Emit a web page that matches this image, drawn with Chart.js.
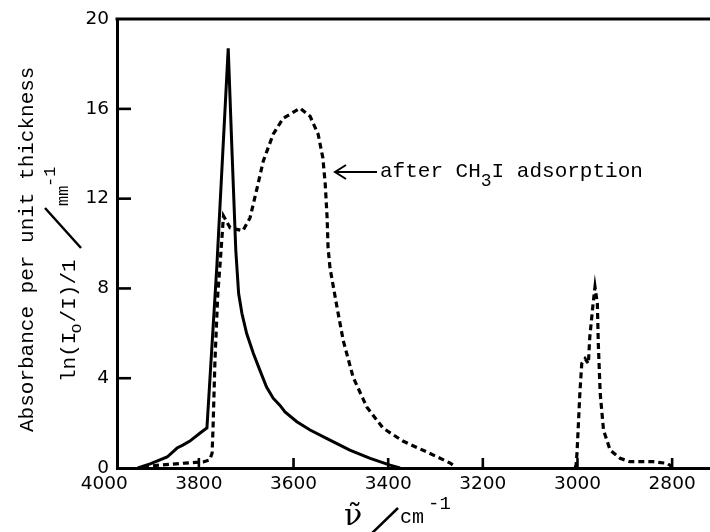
<!DOCTYPE html>
<html>
<head>
<meta charset="utf-8">
<script src="https://cdn.jsdelivr.net/npm/chart.js@4/dist/chart.umd.min.js"></script>
<style>
html,body{margin:0;padding:0;background:#fff;}
#wrap{width:710px;height:532px;position:relative;}
</style>
</head>
<body>
<div id="wrap"><canvas id="c" width="710" height="532"></canvas></div>
<script>
// ---- data ----
const xTickValues = [4000, 3800, 3600, 3400, 3200, 3000, 2800];
const yTickValues = [0, 4, 8, 12, 16, 20];
const xInnerTicks = [3800, 3600, 3400, 3200, 3000, 2800];
const yInnerTicks = [4, 8, 12, 16];
const xLeftEdge = 3973;
const xRightEdge = 2720;

// solid curve (before adsorption)
const beforeWavenumber = [3929, 3903, 3867, 3846, 3834, 3819, 3798, 3783, 3762, 3738, 3730, 3722, 3716, 3709, 3699, 3685, 3671, 3657, 3643, 3629, 3618, 3593, 3565, 3523, 3481, 3438, 3396, 3375];
const beforeAbsorbance = [0, 0.18, 0.49, 0.89, 1.02, 1.2, 1.55, 1.78, 9.0, 18.7, 14.1, 9.7, 7.77, 6.88, 5.99, 5.11, 4.35, 3.61, 3.11, 2.8, 2.5, 2.06, 1.69, 1.24, 0.8, 0.43, 0.13, 0];

// dashed curve (after CH3I adsorption); null = no trace (lies on the axis)
const afterWavenumber = [3918, 3882, 3829, 3791, 3777, 3772, 3770, 3766, 3760, 3755, 3748, 3734, 3707, 3692, 3677, 3664, 3643, 3622, 3586, 3565, 3548, 3538, 3533, 3529, 3527, 3523, 3508, 3495, 3474, 3445, 3411, 3369, 3318, 3269, 3257, 3130, 3005, 3003, 3001, 2995, 2991, 2984, 2977, 2974, 2967, 2963, 2958, 2956, 2952, 2945, 2931, 2910, 2889, 2840, 2811, 2800];
const afterAbsorbance = [0.06, 0.13, 0.22, 0.27, 0.36, 0.67, 1.82, 4.79, 7.77, 9.15, 11.23, 10.7, 10.57, 11.14, 12.47, 13.67, 14.87, 15.58, 16.03, 15.67, 14.87, 13.81, 12.65, 11.14, 9.81, 8.92, 7.15, 5.68, 4.04, 2.71, 1.78, 1.2, 0.71, 0.22, 0.04, null, 0, 0.13, 0.67, 3.32, 4.65, 4.87, 4.65, 5.84, 7.32, 8.07, 7.32, 5.54, 3.32, 1.69, 0.8, 0.43, 0.28, 0.28, 0.21, 0.06];

const toPoints = (xs, ys) => xs.map((x, i) => ({x: x, y: ys[i]}));

const decorations = {
  id: 'decorations',
  afterDatasetsDraw(chart) {
    const {ctx, chartArea: a, scales} = chart;
    const x = scales.x, y = scales.y;
    ctx.save();
    ctx.strokeStyle = '#000';
    ctx.fillStyle = '#000';
    ctx.lineCap = 'butt';
    // top frame line
    ctx.lineWidth = 3;
    ctx.beginPath(); ctx.moveTo(a.left - 1.5, a.top); ctx.lineTo(a.right, a.top); ctx.stroke();
    // inward tick marks
    ctx.lineWidth = 2.6;
    yInnerTicks.forEach(v => {
      const py = y.getPixelForValue(v);
      ctx.beginPath(); ctx.moveTo(a.left, py); ctx.lineTo(a.left + 14, py); ctx.stroke();
    });
    xInnerTicks.forEach(v => {
      const px = x.getPixelForValue(v);
      ctx.beginPath(); ctx.moveTo(px, a.bottom); ctx.lineTo(px, a.bottom - 10); ctx.stroke();
    });

    // annotation arrow + text
    ctx.lineWidth = 2;
    ctx.beginPath(); ctx.moveTo(336, 172); ctx.lineTo(377, 172); ctx.stroke();
    ctx.beginPath(); ctx.moveTo(346, 165); ctx.lineTo(335, 172); ctx.lineTo(346, 179); ctx.stroke();
    ctx.textBaseline = 'alphabetic';
    ctx.textAlign = 'left';
    let tx = 380;
    ctx.font = '21px "Liberation Mono"';
    ctx.fillText('after CH', tx, 177); tx += ctx.measureText('after CH').width;
    ctx.font = '18px "Liberation Mono"';
    ctx.fillText('3', tx, 186); tx += ctx.measureText('3').width;
    ctx.font = '21px "Liberation Mono"';
    ctx.fillText('I adsorption', tx, 177);

    // y axis title, line 1
    ctx.save();
    ctx.translate(33, 432); ctx.rotate(-Math.PI / 2);
    ctx.font = '21px "Liberation Mono"';
    ctx.fillText('Absorbance per unit thickness', 0, 0);
    ctx.restore();
    // y axis title, line 2
    ctx.save();
    ctx.translate(75, 382); ctx.rotate(-Math.PI / 2);
    ctx.font = '21px "Liberation Mono"';
    let lx = 0;
    ctx.fillText('ln(I', lx, 0); lx += ctx.measureText('ln(I').width - 2;
    ctx.font = '17px "Liberation Mono"';
    ctx.fillText('o', lx, 6); lx += ctx.measureText('o').width + 1;
    ctx.font = '21px "Liberation Mono"';
    ctx.fillText('/I)/1', lx, 0);
    ctx.restore();
    ctx.lineWidth = 2.5;
    ctx.beginPath(); ctx.moveTo(81, 248); ctx.lineTo(45, 208); ctx.stroke();
    ctx.save();
    ctx.translate(68, 206); ctx.rotate(-Math.PI / 2);
    ctx.font = '17px "Liberation Mono"';
    ctx.fillText('mm', 0, 0);
    ctx.restore();
    ctx.save();
    ctx.translate(55, 187); ctx.rotate(-Math.PI / 2);
    ctx.font = '17px "Liberation Mono"';
    ctx.fillText('-1', 0, 0);
    ctx.restore();

    // x axis title
    ctx.font = '30px "DejaVu Serif"';
    ctx.fillText('\u03BD\u0303', 344, 525);
    ctx.lineWidth = 2.5;
    ctx.beginPath(); ctx.moveTo(367, 538); ctx.lineTo(398, 508); ctx.stroke();
    ctx.font = '20px "Liberation Mono"';
    ctx.fillText('cm', 400, 523);
    ctx.font = '19px "Liberation Mono"';
    ctx.fillText('-1', 428, 509);
    ctx.restore();
  }
};

new Chart(document.getElementById('c'), {
  type: 'line',
  data: {
    datasets: [
      {
        label: 'before',
        data: toPoints(beforeWavenumber, beforeAbsorbance),
        borderColor: '#000', borderWidth: 3, pointRadius: 0, tension: 0, fill: false
      },
      {
        label: 'after CH3I adsorption',
        data: toPoints(afterWavenumber, afterAbsorbance),
        borderColor: '#000', borderWidth: 3.2, borderDash: [6, 4], pointRadius: 0, tension: 0, fill: false, spanGaps: false
      }
    ]
  },
  options: {
    responsive: false,
    animation: false,
    devicePixelRatio: 1,
    layout: {padding: {top: 17.5, right: 0, bottom: 0, left: 0}},
    plugins: {legend: {display: false}, tooltip: {enabled: false}, title: {display: false}},
    scales: {
      x: {
        type: 'linear', reverse: true, min: xRightEdge, max: xLeftEdge,
        afterBuildTicks: s => { s.ticks = xTickValues.map(v => ({value: v})); },
        afterFit: s => { s.height = 64; },
        grid: {display: false, drawTicks: false},
        border: {display: true, color: '#000', width: 3},
        ticks: {autoSkip: false, maxRotation: 0, minRotation: 0, padding: 5, color: '#000',
                font: {family: 'DejaVu Sans', size: 18.5}, callback: v => String(v)}
      },
      y: {
        type: 'linear', min: 0, max: 20,
        afterBuildTicks: s => { s.ticks = yTickValues.map(v => ({value: v})); },
        afterFit: s => { s.width = 117; },
        grid: {display: false, drawTicks: false},
        border: {display: true, color: '#000', width: 3},
        ticks: {padding: 8, color: '#000', font: {family: 'DejaVu Sans', size: 18.5}, callback: v => String(v)}
      }
    }
  },
  plugins: [decorations]
});
</script>
</body>
</html>
